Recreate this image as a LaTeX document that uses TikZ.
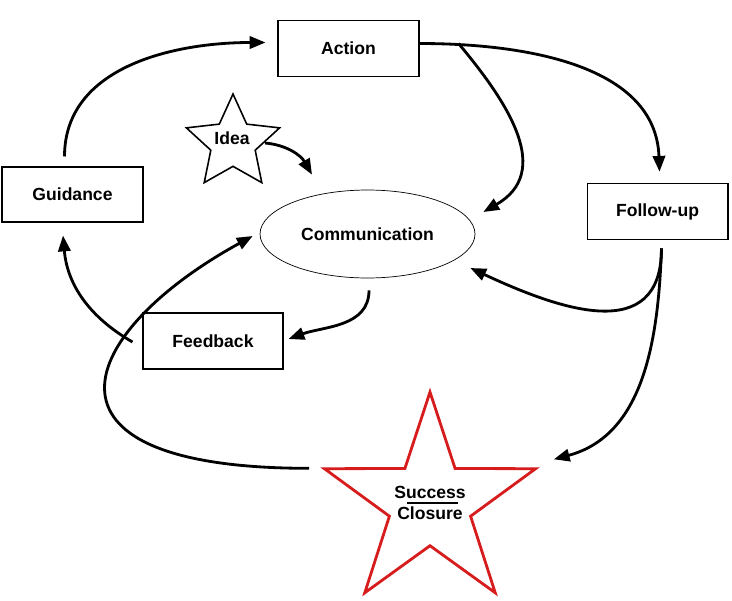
\documentclass[tikz,border=0pt]{standalone}
\usepackage{fontspec}
\setmainfont{Liberation Sans}
\usetikzlibrary{arrows.meta,shapes.geometric,calc}
\definecolor{starred}{RGB}{214,28,28}
\begin{document}
\begin{tikzpicture}[x=0.02cm,y=0.02cm,>={Triangle[length=9pt,width=7pt]},font=\bfseries,
  box/.style={draw, rectangle, line width=0.6pt, minimum width=2.82cm, minimum height=1.13cm},
  flow/.style={->, line width=1.6pt}]
\useasboundingbox (0,0) rectangle (732,600);
\node[box] (action) at (348.5,551.5) {Action};
\node[box, minimum height=1.1cm] (guidance) at (72.5,405.5) {Guidance};
\node[box] (followup) at (657.5,388.5) {Follow-up};
\node[box, minimum width=2.8cm, minimum height=1.12cm] (feedback) at (213,259) {Feedback};
\node[draw, ellipse, line width=0.4pt, minimum width=4.3cm, minimum height=1.76cm] (comm) at (367.5,366) {Communication};
\node[draw, star, star points=5, star point ratio=2.1, minimum size=1.96cm, inner sep=0pt, line width=0.9pt] (idea) at (233,457) {};
\node (ideatext) at (232,462) {Idea};
\node[draw=starred, star, star points=5, star point ratio=2.6, minimum size=4.44cm, inner sep=0pt, line width=1.6pt] (closure) at (430,97) {};
\node[align=center, inner sep=0pt] (closuretext) at (closure.center) {Success\\Closure};
\draw[line width=0.6pt] ($(closure.center)+(-23,0)$) -- ($(closure.center)+(28,0)$);

\coordinate (split) at ($(action.east)+(39,5)$);
\draw[flow] ($(guidance.north)+(-8,10)$) to[out=90,in=180] ($(action.west)+(-12,6)$);
\draw[flow] ($(action.east)+(0,5)$) to[out=0,in=92] ($(followup.north)+(2,11)$);
\draw[flow] (split) to[out=-50,in=30,looseness=1.2] ($(comm.east)+(8,22)$);
\draw[flow] ($(followup.south)+(4,-8)$) to[out=-90,in=-25,looseness=1.3] ($(comm.east)+(-5,-34)$);
\draw[flow] ($(followup.south)+(4,-8)$) to[out=-92,in=15] ($(closure.outer point 5)+(14,8)$);
\draw[flow] ($(comm.south)+(1.5,-12)$) to[out=-90,in=20] ($(feedback.east)+(5,2)$);
\draw[flow] ($(feedback.west)+(-10,-1)$) to[out=150,in=-85] ($(guidance.south)+(-9.5,-13)$);
\draw[flow] ($(closure.outer point 2)+(-11,-1)$) .. controls +(-293,0) and +(-173,-95) .. ($(comm.west)+(-7,-2)$);
\draw[flow] ($(idea.center)+(32,0)$) to[out=-5,in=120] ($(comm.north)+(-55.5,15)$);
\end{tikzpicture}
\end{document}
